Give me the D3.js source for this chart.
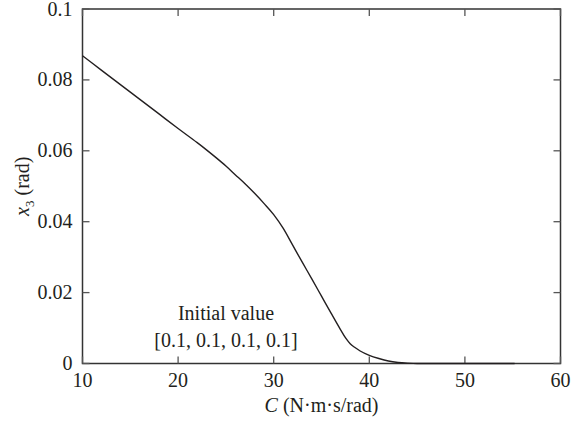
<!DOCTYPE html>
<html>
<head>
<meta charset="utf-8">
<script src="https://cdn.jsdelivr.net/npm/d3@7"></script>
<style>
  body { margin: 0; background: #fff; }
  text { font-family: "Liberation Serif", "DejaVu Serif", serif; fill: #231f20; }
</style>
</head>
<body>
<div id="vis"></div>
<script>
// damping coefficient C and the steady amplitude of x3
var cValues = [10, 12, 14, 16, 18, 20, 22, 23, 24, 25, 26, 27, 28, 29, 30, 31, 32, 33, 34, 35, 36, 37, 37.5, 38, 38.5, 39, 40, 41, 42, 43, 44, 45, 55.2];
var x3Values = [0.0868, 0.0827, 0.0786, 0.0745, 0.0704, 0.0663, 0.0623, 0.0602, 0.0580, 0.0557, 0.0532, 0.0507, 0.0480, 0.0451, 0.0420, 0.0381, 0.0333, 0.0285, 0.0238, 0.0190, 0.0142, 0.0095, 0.0073, 0.0056, 0.0045, 0.0036, 0.0023, 0.0014, 0.0007, 0.0003, 0.0001, 0, 0];
var xTicks = [10, 20, 30, 40, 50, 60];
var yTicks = [0, 0.02, 0.04, 0.06, 0.08, 0.1];
var yTickLabels = ['0', '0.02', '0.04', '0.06', '0.08', '0.1'];

var width = 571;
var height = 425;
var margin = { top: 9, right: 10.5, bottom: 61.5, left: 82.5 };
var innerW = width - margin.left - margin.right;
var innerH = height - margin.top - margin.bottom;

var svg = d3.select('#vis').append('svg')
  .attr('width', width)
  .attr('height', height);

var g = svg.append('g')
  .attr('transform', 'translate(' + margin.left + ',' + margin.top + ')');

var x = d3.scaleLinear().domain([10, 60]).range([0, innerW]);
var y = d3.scaleLinear().domain([0, 0.1]).range([innerH, 0]);

var data = cValues.map(function (c, i) { return { c: c, v: x3Values[i] }; });

// frame
g.append('rect')
  .attr('width', innerW)
  .attr('height', innerH)
  .attr('fill', 'none')
  .attr('stroke', '#333')
  .attr('stroke-width', 1.5);

// ticks, inward on all four sides
var tickLen = 7;
var tickColor = '#555';
xTicks.forEach(function (t) {
  g.append('line').attr('x1', x(t)).attr('x2', x(t))
    .attr('y1', innerH).attr('y2', innerH - tickLen)
    .attr('stroke', tickColor).attr('stroke-width', 1.3);
  g.append('line').attr('x1', x(t)).attr('x2', x(t))
    .attr('y1', 0).attr('y2', tickLen)
    .attr('stroke', tickColor).attr('stroke-width', 1.3);
});
yTicks.forEach(function (t) {
  g.append('line').attr('x1', 0).attr('x2', tickLen)
    .attr('y1', y(t)).attr('y2', y(t))
    .attr('stroke', tickColor).attr('stroke-width', 1.3);
  g.append('line').attr('x1', innerW).attr('x2', innerW - tickLen)
    .attr('y1', y(t)).attr('y2', y(t))
    .attr('stroke', tickColor).attr('stroke-width', 1.3);
});

// tick labels
g.selectAll('.xlab').data(xTicks).enter().append('text')
  .attr('class', 'xlab')
  .attr('x', function (d) { return x(d); })
  .attr('y', innerH + 23)
  .attr('text-anchor', 'middle')
  .style('font-size', '20px')
  .text(function (d) { return d; });

g.selectAll('.ylab').data(yTicks).enter().append('text')
  .attr('class', 'ylab')
  .attr('x', -10)
  .attr('y', function (d) { return y(d) + 6.5; })
  .attr('text-anchor', 'end')
  .style('font-size', '20px')
  .text(function (d, i) { return yTickLabels[i]; });

// curve
var line = d3.line()
  .x(function (d) { return x(d.c); })
  .y(function (d) { return y(d.v); })
  .curve(d3.curveMonotoneX);

g.append('path')
  .datum(data)
  .attr('d', line)
  .attr('fill', 'none')
  .attr('stroke', '#231f20')
  .attr('stroke-width', 1.4);

// annotation
g.append('text')
  .attr('x', 143.5)
  .attr('y', 311)
  .attr('text-anchor', 'middle')
  .style('font-size', '20px')
  .text('Initial value');
g.append('text')
  .attr('x', 143.5)
  .attr('y', 338)
  .attr('text-anchor', 'middle')
  .style('font-size', '20px')
  .text('[0.1, 0.1, 0.1, 0.1]');

// axis titles
var xt = svg.append('text')
  .attr('x', margin.left + innerW / 2)
  .attr('y', 412)
  .attr('text-anchor', 'middle')
  .style('font-size', '20px');
xt.append('tspan').style('font-style', 'italic').text('C');
xt.append('tspan').text(' (N·m·s/rad)');

var yt = svg.append('text')
  .attr('transform', 'translate(29,' + (margin.top + innerH / 2) + ') rotate(-90)')
  .attr('text-anchor', 'middle')
  .style('font-size', '20px');
yt.append('tspan').style('font-style', 'italic').text('x');
yt.append('tspan').attr('dy', 5).style('font-size', '13px').text('3');
yt.append('tspan').attr('dy', -5).text(' (rad)');
</script>
</body>
</html>
